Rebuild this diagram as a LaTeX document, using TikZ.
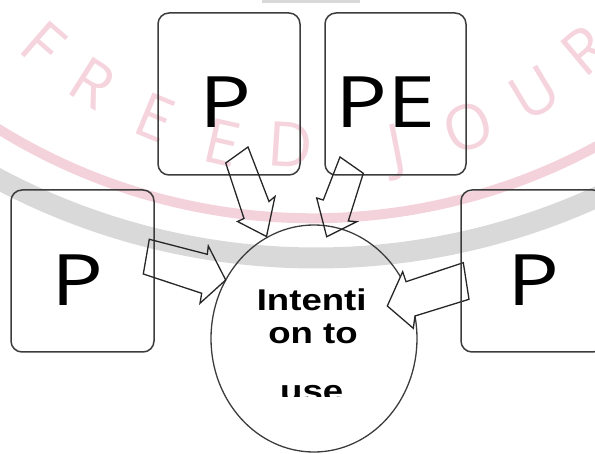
\documentclass[tikz,border=0pt]{standalone}
\usepackage{fontspec}
\usetikzlibrary{shapes.geometric}
\newfontfamily\boxfont[FakeStretch=1.22]{Open Sans}
\newfontfamily\labelfont[FakeStretch=1.22]{Liberation Sans}
\newfontfamily\markfont{Open Sans}
\definecolor{wmpink}{RGB}{245,212,222}
\definecolor{wmband}{RGB}{244,210,220}
\definecolor{wmgray}{RGB}{217,217,217}
\definecolor{edge}{RGB}{60,60,60}

\begin{document}
\begin{tikzpicture}[x=1pt,y=-1pt,
  pbox/.style={draw=edge, line width=1.5pt, rounded corners=11pt,
    minimum width=142pt, minimum height=162pt, inner sep=0pt},
  bigtext/.style={inner sep=0pt, anchor=base,
    font=\boxfont\fontsize{71}{71}\selectfont},
  goal/.style={ellipse, draw=edge, line width=1.3pt,
    minimum width=206pt, minimum height=227pt, inner sep=0pt},
  goaltext/.style={inner sep=0pt, anchor=base,
    font=\labelfont\bfseries\fontsize{30}{30}\selectfont},
  blockarrow/.style={draw=black!85, line width=1.3pt, line join=miter},
  wmletter/.style={text=wmpink, inner sep=0pt,
    font=\markfont\fontsize{62}{62}\selectfont}
]
\useasboundingbox (0,0) rectangle (595,454);
\clip (0,0) rectangle (595,454);

% faint watermark: arcs and lettering
\fill[wmgray] (262,0) rectangle (360,3);
\draw[wmgray, line width=21pt] (315.9,-420) ++(120:678) arc[start angle=120, end angle=62, radius=678];
\draw[wmband, line width=10pt] (312.3,-378.2) ++(125:596.5) arc[start angle=125, end angle=58, radius=596.5];
\node[wmletter, rotate=-40.9] (w1) at (43,44)  {F};
\node[wmletter, rotate=-32.2] (w2) at (93,83)  {R};
\node[wmletter, rotate=-22.5] (w3) at (155,118) {E};
\node[wmletter, rotate=-12.8] (w4) at (222,143) {E};
\node[wmletter, rotate=-3.6]  (w5) at (290,145) {D};
\node[wmletter, rotate=11]    (w6) at (398,152) {J};
\node[wmletter, rotate=20.9]  (w7) at (468,127) {O};
\node[wmletter, rotate=31]    (w8) at (535,93)  {U};
\node[wmletter, rotate=40]    (w9) at (585,50)  {R};

% central goal
\node[goal] (goal) at (314,338.5) {};

% right arrow sits over the ellipse outline
\draw[blockarrow, fill=white] (463.3,262.7) -- (406,281.7) -- (402.7,271.7) -- (387.3,306)
  -- (413.3,328.3) -- (415,316) -- (469,299.3) -- cycle;

% factor boxes
\node[pbox] (top1) at (229,94) {};
\node[pbox, minimum width=141pt] (top2) at (395.5,94) {};
\node[pbox, minimum width=143pt] (left) at (82.5,271) {};
\node[pbox, minimum width=143pt] (right) at (532.5,271) {};

% block arrows into the goal
\draw[blockarrow] (225.7,163) -- (248,147) -- (269,201.5) -- (275,196.5) -- (266.5,236.5)
  -- (237.5,221.5) -- (244,218.5) -- cycle;
\draw[blockarrow] (340,157) -- (363.3,173.3) -- (348.3,221) -- (356.7,221.7) -- (326.7,236.7)
  -- (316.7,198) -- (323.3,200) -- cycle;
\draw[blockarrow] (149.3,239.3) -- (207.3,254.3) -- (208.3,246) -- (225.7,280)
  -- (200,303.3) -- (201.7,293.3) -- (143.3,274) -- cycle;

% box labels
\node[bigtext] (t1) at (225.5,128) {P};
\node[bigtext] (t2) at (385.5,128) {PE};
\node[bigtext] (t3) at (77.5,306) {P};
\node[bigtext] (t4) at (533.5,306) {P};

% goal label
\node[goaltext] (g1) at (311.7,310.7) {Intenti};
\node[goaltext] (g2) at (313,343.3) {on to};
\begin{scope}
  \clip (220,370) rectangle (400,397);
  \node[goaltext] (g3) at (311.7,401.6) {use};
\end{scope}
\end{tikzpicture}
\end{document}
